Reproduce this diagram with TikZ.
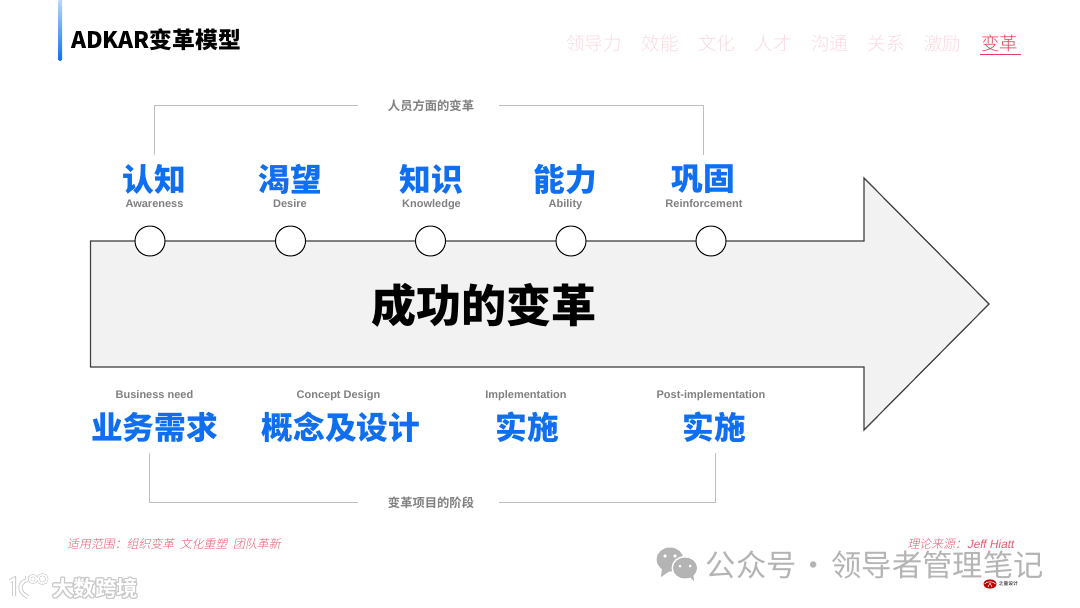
\documentclass[tikz,border=0pt]{standalone}
\usepackage{fontspec}
\setmainfont{Liberation Sans}
\newfontfamily\cjkb{Noto Sans CJK SC Bold}
\newfontfamily\cjkh{Noto Sans CJK SC Black}
\newfontfamily\cjkr{Noto Sans CJK SC}
\newfontfamily\cjkl{Noto Sans CJK SC Light}
\newfontfamily\cjki[FakeSlant=0.2]{Noto Sans CJK SC Light}
\newfontfamily\lati[FakeSlant=0.2]{Liberation Sans}
\definecolor{headblue}{HTML}{0F6FF0}
\definecolor{sub}{HTML}{808080}
\definecolor{rule}{HTML}{BFBFBF}
\definecolor{navpale}{HTML}{FBDAE1}
\definecolor{navred}{HTML}{E8405A}
\definecolor{notered}{HTML}{E85A70}
\definecolor{wm}{HTML}{B4B4B4}
\tikzset{
  x=1pt,y=-1pt,
  head/.style={font=\fontsize{31.7}{32}\cjkh,text=headblue,inner sep=0pt},
  eng/.style={font=\fontsize{11}{11}\bfseries,text=sub,inner sep=0pt,anchor=base},
  brk/.style={font=\fontsize{12.3}{13}\cjkb,text=sub,inner sep=0pt},
  bline/.style={draw=rule,line width=1pt},
  nav/.style={font=\fontsize{18.5}{19}\cjkl,text=navpale,inner sep=0pt,anchor=base},
  dot/.style={circle,draw=black,fill=white,line width=1pt,minimum size=30pt,inner sep=0pt},
  note/.style={font=\fontsize{11.9}{12}\cjki,text=notered,inner sep=0pt},
}
\begin{document}
\begin{tikzpicture}
\useasboundingbox (0,0) rectangle (1080,608);
\fill[white] (0,0) rectangle (1080,608);
% title bar
\shade[top color=headblue!25,bottom color=headblue,rounded corners=1.5pt] (58.5,-3) rectangle (62,61);
\node[font=\fontsize{22.8}{23}\bfseries\cjkb,anchor=west,inner sep=0pt] (title) at (71,40) {ADKAR变革模型};
% nav
\node[nav] (n1) at (594,50) {领导力};
\node[nav] (n2) at (660,50) {效能};
\node[nav] (n3) at (716.5,50) {文化};
\node[nav] (n4) at (773,50) {人才};
\node[nav] (n5) at (829.5,50) {沟通};
\node[nav] (n6) at (886,50) {关系};
\node[nav] (n7) at (942.5,50) {激励};
\node[nav,text=navred] (n8) at (999.5,50) {变革};
\draw[navred,line width=0.8pt] (980,54.5) -- (1021,54.5);
% arrow
\draw[fill=black!5,draw=black!75,line width=1.2pt,line join=miter] (90.5,241) -- (864,241) -- (864,178) -- (989,304) -- (864,430) -- (864,367) -- (90.5,367) -- cycle;
\foreach \n/\x in {c1/150,c2/290.5,c3/430.5,c4/571,c5/711}{\node[dot] (\n) at (\x,241) {};}
\node[font=\fontsize{45}{45}\cjkh,inner sep=0pt] (main) at (484,305) {成功的变革};
% top
\node[head] (a1) at (154.5,179) {认知};
\node[head] (a2) at (290,179) {渴望};
\node[head] (a3) at (431,179) {知识};
\node[head] (a4) at (565.5,179) {能力};
\node[head] (a5) at (703.5,179) {巩固};
\node[eng] (e1) at (154.5,207.5) {Awareness};
\node[eng] (e2) at (290,207.5) {Desire};
\node[eng] (e3) at (431.5,207.5) {Knowledge};
\node[eng] (e4) at (565.5,207.5) {Ability};
\node[eng] (e5) at (704,207.5) {Reinforcement};
\node[brk] (tb) at (431,105.5) {人员方面的变革};
\draw[bline] (154.5,155) |- (358,105.5);
\draw[bline] (703.5,155) |- (499,105.5);
% bottom
\node[eng] (f1) at (154.5,398.5) {Business need};
\node[eng] (f2) at (338.5,398.5) {Concept Design};
\node[eng] (f3) at (526,398.5) {Implementation};
\node[eng] (f4) at (711,398.5) {Post-implementation};
\node[head] (b1) at (154.5,427) {业务需求};
\node[head] (b2) at (341,427) {概念及设计};
\node[head] (b3) at (527,427) {实施};
\node[head] (b4) at (714.5,427) {实施};
\node[brk] (bb) at (431,503) {变革项目的阶段};
\draw[bline] (149.5,453) |- (358,502.5);
\draw[bline] (715.5,453) |- (499,502.5);
% notes
\node[note,anchor=west] (nl) at (67,544) {适用范围：组织变革\hspace{3pt} 文化重塑\hspace{3pt} 团队革新};
\node[note,anchor=east] (nr) at (1014,544) {理论来源：{\lati Jeff Hiatt}};
% wechat watermark
\node[font=\fontsize{30.3}{31}\cjkr,text=wm,anchor=west,inner sep=0pt] (wm1) at (705.5,565) {公众号\makebox[35pt][c]{·}领导者管理笔记};
\fill[wm] (670,559.5) circle[x radius=13.5,y radius=12];
\fill[wm] (662,568) -- (661,577) -- (671,570) -- cycle;
\fill[white] (685,568) circle[x radius=13.5,y radius=12];
\fill[wm] (685,568) circle[x radius=12,y radius=10.5];
\fill[wm] (689,576) -- (694,581) -- (693,572) -- cycle;
\fill[white] (665,556) circle (1.8) (675,556) circle (1.8) (680,566) circle (1.5) (690,566) circle (1.5);
% platform watermark
\foreach \dx/\dy in {-1/0,1/0,0/-1,0/1,1/1,-1/-1,1/-1,-1/1}{
  \node[font=\fontsize{21.5}{22}\cjkb,text=black!22,anchor=west,inner sep=0pt] at (52+\dx,588+\dy) {大数跨境};
}
\node[font=\fontsize{21.5}{22}\cjkb,text=white,anchor=west,inner sep=0pt] (wm2) at (52,588) {大数跨境};
\foreach \c/\w in {black!22/4pt,white/2.4pt}{
  \draw[\c,line width=\w] (10,581) -- (14,579) -- (14,596)
    (27,580) .. controls (18,583) and (18,592) .. (28,597)
    (27,581) -- (27,576);
  \draw[\c,line width=0.7*\w] (33,579) circle (3.5) (42.5,579) circle (4.5);
}
% small logo
\fill[red!75!black] (990,584) circle[x radius=6.5,y radius=4.6];
\draw[white,line width=0.6pt] (984.5,584) .. controls (987,581) and (993,581) .. (995.5,584);
\draw[white,line width=0.6pt] (988,587) -- (990,583) -- (992,587);
\node[font=\fontsize{4.8}{5}\cjkb,text=black!70,anchor=west,inner sep=0pt] (lg) at (998.5,584) {之量设计};
\end{tikzpicture}
\end{document}
